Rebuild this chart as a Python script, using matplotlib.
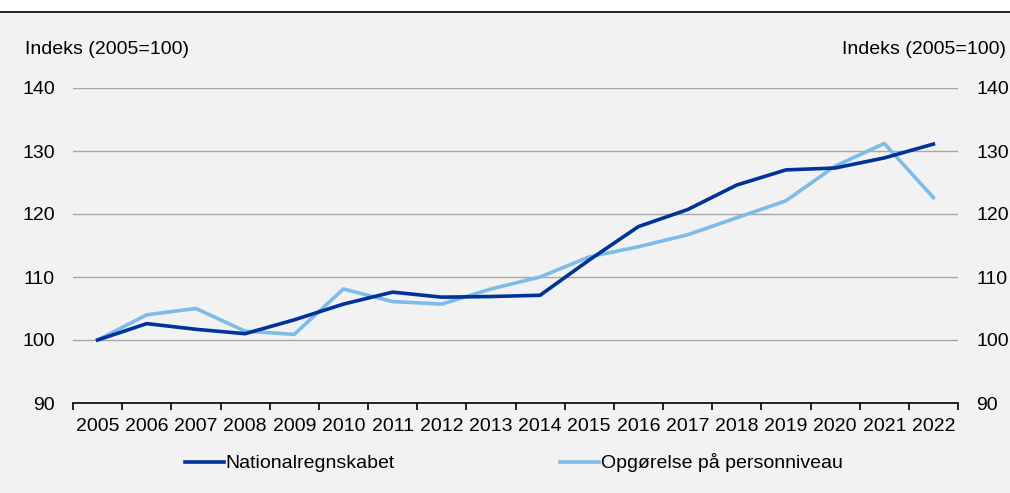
import numpy as np
import matplotlib.pyplot as plt
from matplotlib.lines import Line2D

plt.rcParams['font.family'] = ['Liberation Sans', 'DejaVu Sans']

years = [str(y) for y in range(2005, 2023)]
national = [100.0, 102.6, 101.7, 101.0, 103.2, 105.7, 107.6, 106.8, 106.9, 107.1,
            112.7, 118.0, 120.7, 124.6, 127.0, 127.3, 128.9, 131.1]
personniveau = [100.0, 104.0, 105.0, 101.4, 100.9, 108.1, 106.1, 105.7, 108.1, 110.0,
                113.2, 114.8, 116.7, 119.4, 122.1, 127.6, 131.2, 122.6]
yticks = [90, 100, 110, 120, 130, 140]

dark = '#003399'
light = '#7dbbe8'
bg = '#f2f2f2'
fs = 14

fig = plt.figure(figsize=(10.1, 4.93), dpi=100)
fig.patch.set_facecolor('white')
# grey panel and black rule at the top
fig.patches.append(plt.Rectangle((0, 0), 1, 1 - 13 / 493, transform=fig.transFigure,
                                 facecolor=bg, edgecolor='none', zorder=-10))
fig.add_artist(Line2D([0, 1], [1 - 12 / 493, 1 - 12 / 493], transform=fig.transFigure,
                      color='black', lw=1.2))

ax = fig.add_axes([73 / 1010, 1 - 403 / 493, 885 / 1010, 315 / 493])
ax.set_facecolor(bg)

x = np.arange(len(years))
ax.plot(x, national, color=dark, lw=2.6, label='Nationalregnskabet', zorder=3)
ax.plot(x, personniveau, color=light, lw=2.6, label='Opgørelse på personniveau', zorder=2)

ax.set_xlim(-0.5, len(years) - 0.5)
ax.set_ylim(90, 140)
ax.set_yticks(yticks)
ax.yaxis.grid(True, color='#a6a6a6', lw=1)
ax.set_axisbelow(True)
for s in ['top', 'left', 'right']:
    ax.spines[s].set_visible(False)
ax.spines['bottom'].set_color('black')
ax.spines['bottom'].set_linewidth(1.2)

ax.set_xticks(x)
ax.set_xticklabels(years)
ax.set_xticks(np.arange(len(years) + 1) - 0.5, minor=True)
ax.tick_params(axis='x', which='major', length=0, pad=11, labelsize=fs)
ax.tick_params(axis='x', which='minor', length=5, width=1.2, color='black')
ax.tick_params(axis='y', length=0, labelsize=fs, labelright=True, pad=13)

fig.text(25 / 1010, 1 - 50 / 493, 'Indeks (2005=100)', fontsize=fs, ha='left', va='center')
fig.text(1006 / 1010, 1 - 50 / 493, 'Indeks (2005=100)', fontsize=fs, ha='right', va='center')

fig.legend(loc='center', bbox_to_anchor=(514 / 1010, 1 - 463 / 493), ncol=2, frameon=False,
           fontsize=fs, handlelength=2.0, handletextpad=0.1, columnspacing=8.5)

fig.savefig('out.png', dpi=100, facecolor=fig.get_facecolor())
